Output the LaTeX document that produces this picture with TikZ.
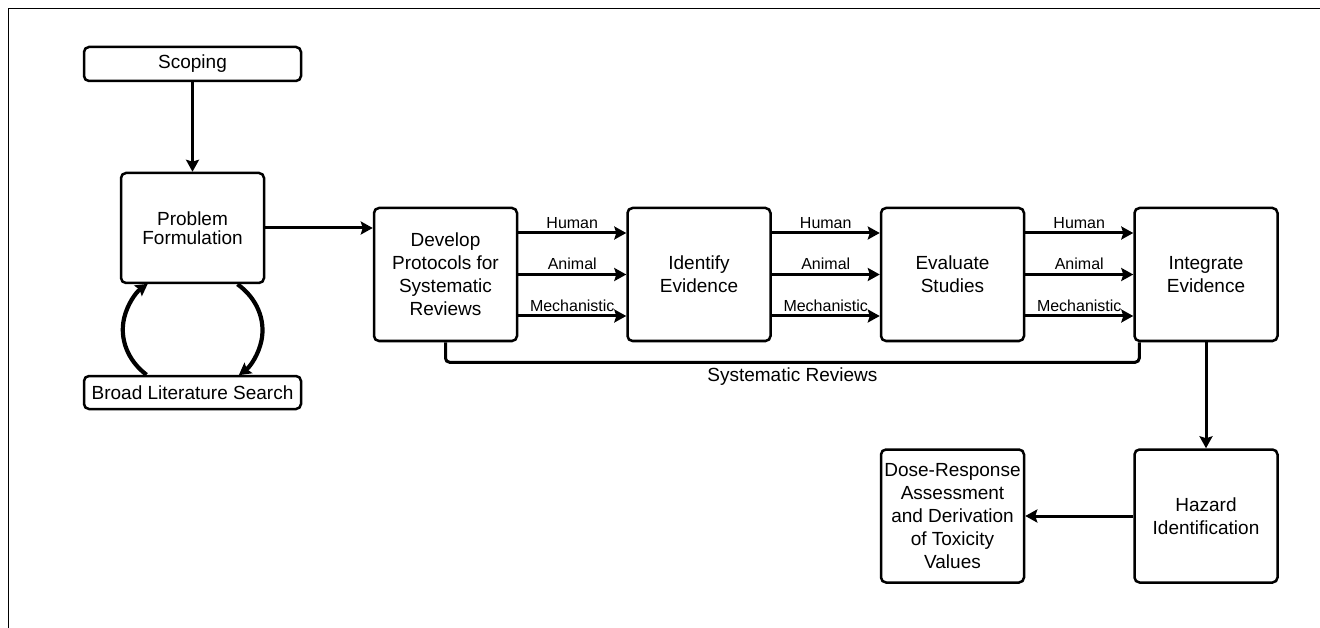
\documentclass[tikz,border=0pt]{standalone}
\usepackage{fontspec}
\setmainfont{Liberation Sans}
\usetikzlibrary{shapes,arrows.meta,positioning}
\tikzstyle{widebox} = [rectangle, rounded corners=5pt, minimum width=217pt, minimum height=34pt, inner sep=0pt, text centered, draw=black, line width=2.5pt, font=\fontsize{19}{23}\selectfont]
\tikzstyle{process} = [rectangle, rounded corners=5pt, minimum width=143pt, minimum height=133pt, inner sep=0pt, align=center, draw=black, line width=2.5pt, font=\fontsize{19}{23}\selectfont]
\tikzstyle{arrow} = [line width=3pt,->,>={Stealth[length=12pt,width=13pt,inset=2pt]}]
\tikzstyle{loop} = [line width=4.2pt,->,>={Stealth[length=12pt,width=13pt,inset=2pt]}]
\tikzstyle{stream} = [font=\fontsize{16}{18}\selectfont, above, inner sep=3pt]

\begin{document}
\begin{tikzpicture}[x=1pt, y=1pt, node distance=108pt]
	\useasboundingbox (0,0) rectangle (1320,-628);
	\draw[line width=1pt] (8,-628) -- (8,-9) -- (1320,-9);
	\node (scope) [widebox] at (192.5,-64) {Scoping};
	\node (pf) [process, minimum height=110pt, font=\fontsize{19}{19}\selectfont] at (192.5,-228) {Problem\\Formulation};
	\node (search) [widebox, minimum height=33pt] at (192.5,-392.5) {Broad Literature Search};
	\node (protocol) [process] at (445.5,-274.5) {Develop\\Protocols for\\Systematic\\Reviews};
	\node (identify) [process, right=of protocol] {Identify\\Evidence};
	\node (evaluate) [process, right=of identify] {Evaluate\\Studies};
	\node (integrate) [process, right=of evaluate] {Integrate\\Evidence};
	\node (hazard) [process, below=106pt of integrate] {Hazard\\Identification};
	\node (dose) [process, left=of hazard] {Dose-Response\\Assessment\\and Derivation\\of Toxicity\\Values};
	\draw [arrow] (scope) -- (pf);
	\draw [arrow] (pf.east) -- (pf.east -| protocol.west);
	% search loop
	\draw [loop] ([xshift=-46pt]search.north) arc[start angle=228.6, end angle=130, x radius=70pt, y radius=60pt];
	\draw [loop] ([xshift=45pt]pf.south) arc[start angle=50, end angle=-48.6, x radius=70pt, y radius=60pt];
	% three streams between each pair of steps
	\draw [arrow] ([yshift=41.5pt]protocol.east) -- node[stream]{Human} ([yshift=41.5pt]identify.west);
	\draw [arrow] (protocol.east) -- node[stream]{Animal} (identify.west);
	\draw [arrow] ([yshift=-41.5pt]protocol.east) -- node[stream]{Mechanistic} ([yshift=-41.5pt]identify.west);
	\draw [arrow] ([yshift=41.5pt]identify.east) -- node[stream]{Human} ([yshift=41.5pt]evaluate.west);
	\draw [arrow] (identify.east) -- node[stream]{Animal} (evaluate.west);
	\draw [arrow] ([yshift=-41.5pt]identify.east) -- node[stream]{Mechanistic} ([yshift=-41.5pt]evaluate.west);
	\draw [arrow] ([yshift=41.5pt]evaluate.east) -- node[stream]{Human} ([yshift=41.5pt]integrate.west);
	\draw [arrow] (evaluate.east) -- node[stream]{Animal} (integrate.west);
	\draw [arrow] ([yshift=-41.5pt]evaluate.east) -- node[stream]{Mechanistic} ([yshift=-41.5pt]integrate.west);
	\draw [line width=3pt, rounded corners=4pt] (protocol.south) -- ++(0,-20) -| node[pos=0.25, below, inner sep=4pt, font=\fontsize{19}{23}\selectfont]{Systematic Reviews} ([xshift=6pt]integrate.south west);
	\draw [arrow] (integrate) -- (hazard);
	\draw [arrow] (hazard) -- (dose);
\end{tikzpicture}
\end{document}
